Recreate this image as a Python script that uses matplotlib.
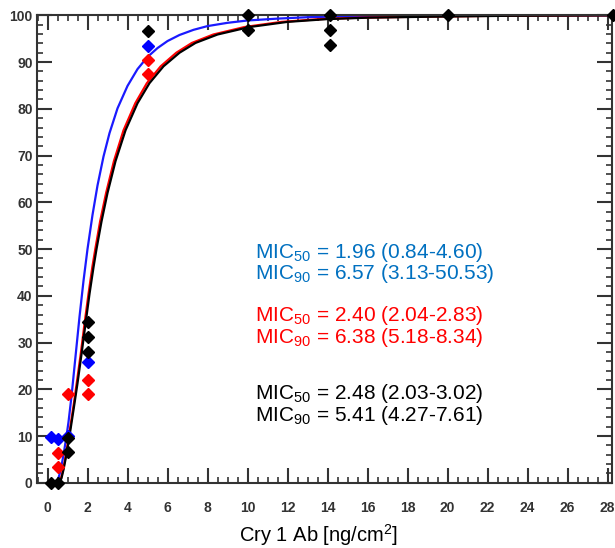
import matplotlib
matplotlib.use("Agg")
import matplotlib.pyplot as plt
from matplotlib.ticker import MultipleLocator

plt.rcParams['font.family'] = ['Liberation Sans', 'DejaVu Sans']
plt.rcParams['mathtext.default'] = 'regular'

# observed mortality points
blue_x = [0.17, 0.5, 1, 2, 5]
blue_y = [9.8, 9.4, 10.0, 25.8, 93.5]
red_x = [0.5, 0.5, 1, 2, 2, 5, 5]
red_y = [6.4, 3.3, 19.0, 21.9, 19.0, 90.5, 87.5]
black_x = [0.17, 0.5, 1, 1, 2, 2, 2, 5, 10, 10, 14.14, 14.14, 14.14, 20, 28.28]
black_y = [0, 0, 9.6, 6.5, 34.3, 31.1, 27.9, 96.7, 100, 96.8, 100, 96.8, 93.7, 100, 100]

# fitted curves
blue_fx = [0.45, 0.55, 0.65, 0.75, 0.85, 0.95, 1.05, 1.2, 1.4, 1.6, 1.8, 2.0, 2.25, 2.5,
           2.8, 3.1, 3.5, 4.0, 4.5, 5.0, 5.5, 6.0, 6.6, 7.3, 8.0, 9.0, 10, 11.5, 13, 15,
           18, 22, 28.2]
blue_fy = [0, 1, 2.6, 4.8, 7.3, 10, 13, 18.5, 27, 35.5, 43.2, 50, 57.3, 63.6,
           69.8, 74.8, 80.1, 84.9, 88.5, 91.1, 93.0, 94.5, 95.8, 96.9, 97.7, 98.4, 98.9, 99.3, 99.6, 99.8,
           99.9, 100, 100]
black_fx = [0.6, 0.7, 0.8, 0.9, 1.0, 1.1, 1.2, 1.35, 1.5, 1.7, 1.9, 2.1, 2.3, 2.45,
            2.7, 3.0, 3.4, 3.9, 4.5, 5.1, 5.8, 6.6, 7.4, 8.5, 10.1, 12, 14, 16, 19, 23, 28.2]
black_fy = [0, 1, 2.8, 5, 7.5, 10, 12.8, 17, 21.3, 27.5, 34, 40.4, 46.1, 50,
            55.9, 62.0, 68.8, 75.4, 81.2, 85.5, 89.1, 92.0, 94.1, 95.9, 97.5, 98.6, 99.2, 99.5, 99.7, 99.9, 100]
red_fx = [0.58, 0.68, 0.78, 0.88, 0.975, 1.07, 1.17, 1.32, 1.46, 1.66, 1.85, 2.05, 2.24, 2.39,
          2.63, 2.93, 3.32, 3.8, 4.39, 4.97, 5.66, 6.44, 7.22, 8.29, 9.85, 11.7, 13.65, 15.6, 18.5, 22.4, 28.2]
red_fy = black_fy

labels = [
    ("MIC$_{50}$ = 1.96 (0.84-4.60)", "#0070C0", 49.2),
    ("MIC$_{90}$ = 6.57 (3.13-50.53)", "#0070C0", 44.7),
    ("MIC$_{50}$ = 2.40 (2.04-2.83)", "#FF0000", 35.7),
    ("MIC$_{90}$ = 6.38 (5.18-8.34)", "#FF0000", 31.0),
    ("MIC$_{50}$ = 2.48 (2.03-3.02)", "black", 19.0),
    ("MIC$_{90}$ = 5.41 (4.27-7.61)", "black", 14.5),
]

fig = plt.figure(figsize=(6.15, 5.48), dpi=100)
ax = fig.add_axes([0.060, 0.119, 0.935, 0.853])

ax.plot(blue_fx, blue_fy, color="#1a1aff", lw=1.6)
ax.plot(red_fx, red_fy, color="#ff0000", lw=1.6)
ax.plot(black_fx, black_fy, color="black", lw=1.6)

ax.plot(blue_x, blue_y, "D", color="#0000ff", ms=6, clip_on=False, zorder=5)
ax.plot(red_x, red_y, "D", color="#ff0000", ms=6, clip_on=False, zorder=6)
ax.plot(black_x, black_y, "D", color="black", ms=6, clip_on=False, zorder=7)

for txt, col, yv in labels:
    ax.text(10.35, yv, txt, color=col, fontsize=15, va="center", ha="left")

ax.set_xlim(-0.53, 28.22)
ax.set_ylim(0, 100)
ax.xaxis.set_major_locator(MultipleLocator(2))
ax.xaxis.set_minor_locator(MultipleLocator(0.5))
ax.yaxis.set_major_locator(MultipleLocator(10))
ax.yaxis.set_minor_locator(MultipleLocator(2))
ax.tick_params(which="both", direction="in", top=True, right=True, color="#333333")
ax.tick_params(which="major", length=10.5, width=1.5)
ax.tick_params(which="minor", length=4.5, width=1.2)
ax.tick_params(axis="x", which="major", pad=13)
ax.tick_params(axis="y", which="major", pad=3)
for lab in ax.get_xticklabels() + ax.get_yticklabels():
    lab.set_fontweight("bold")
    lab.set_fontsize(10)
    lab.set_color("#333333")
for sp in ax.spines.values():
    sp.set_linewidth(1.5)
    sp.set_color("#333333")

ax.set_xlabel("Cry 1 Ab [ng/cm$^2$]", fontsize=14.5)
ax.xaxis.set_label_coords(0.489, -0.084)

fig.savefig("out.png", dpi=100)
